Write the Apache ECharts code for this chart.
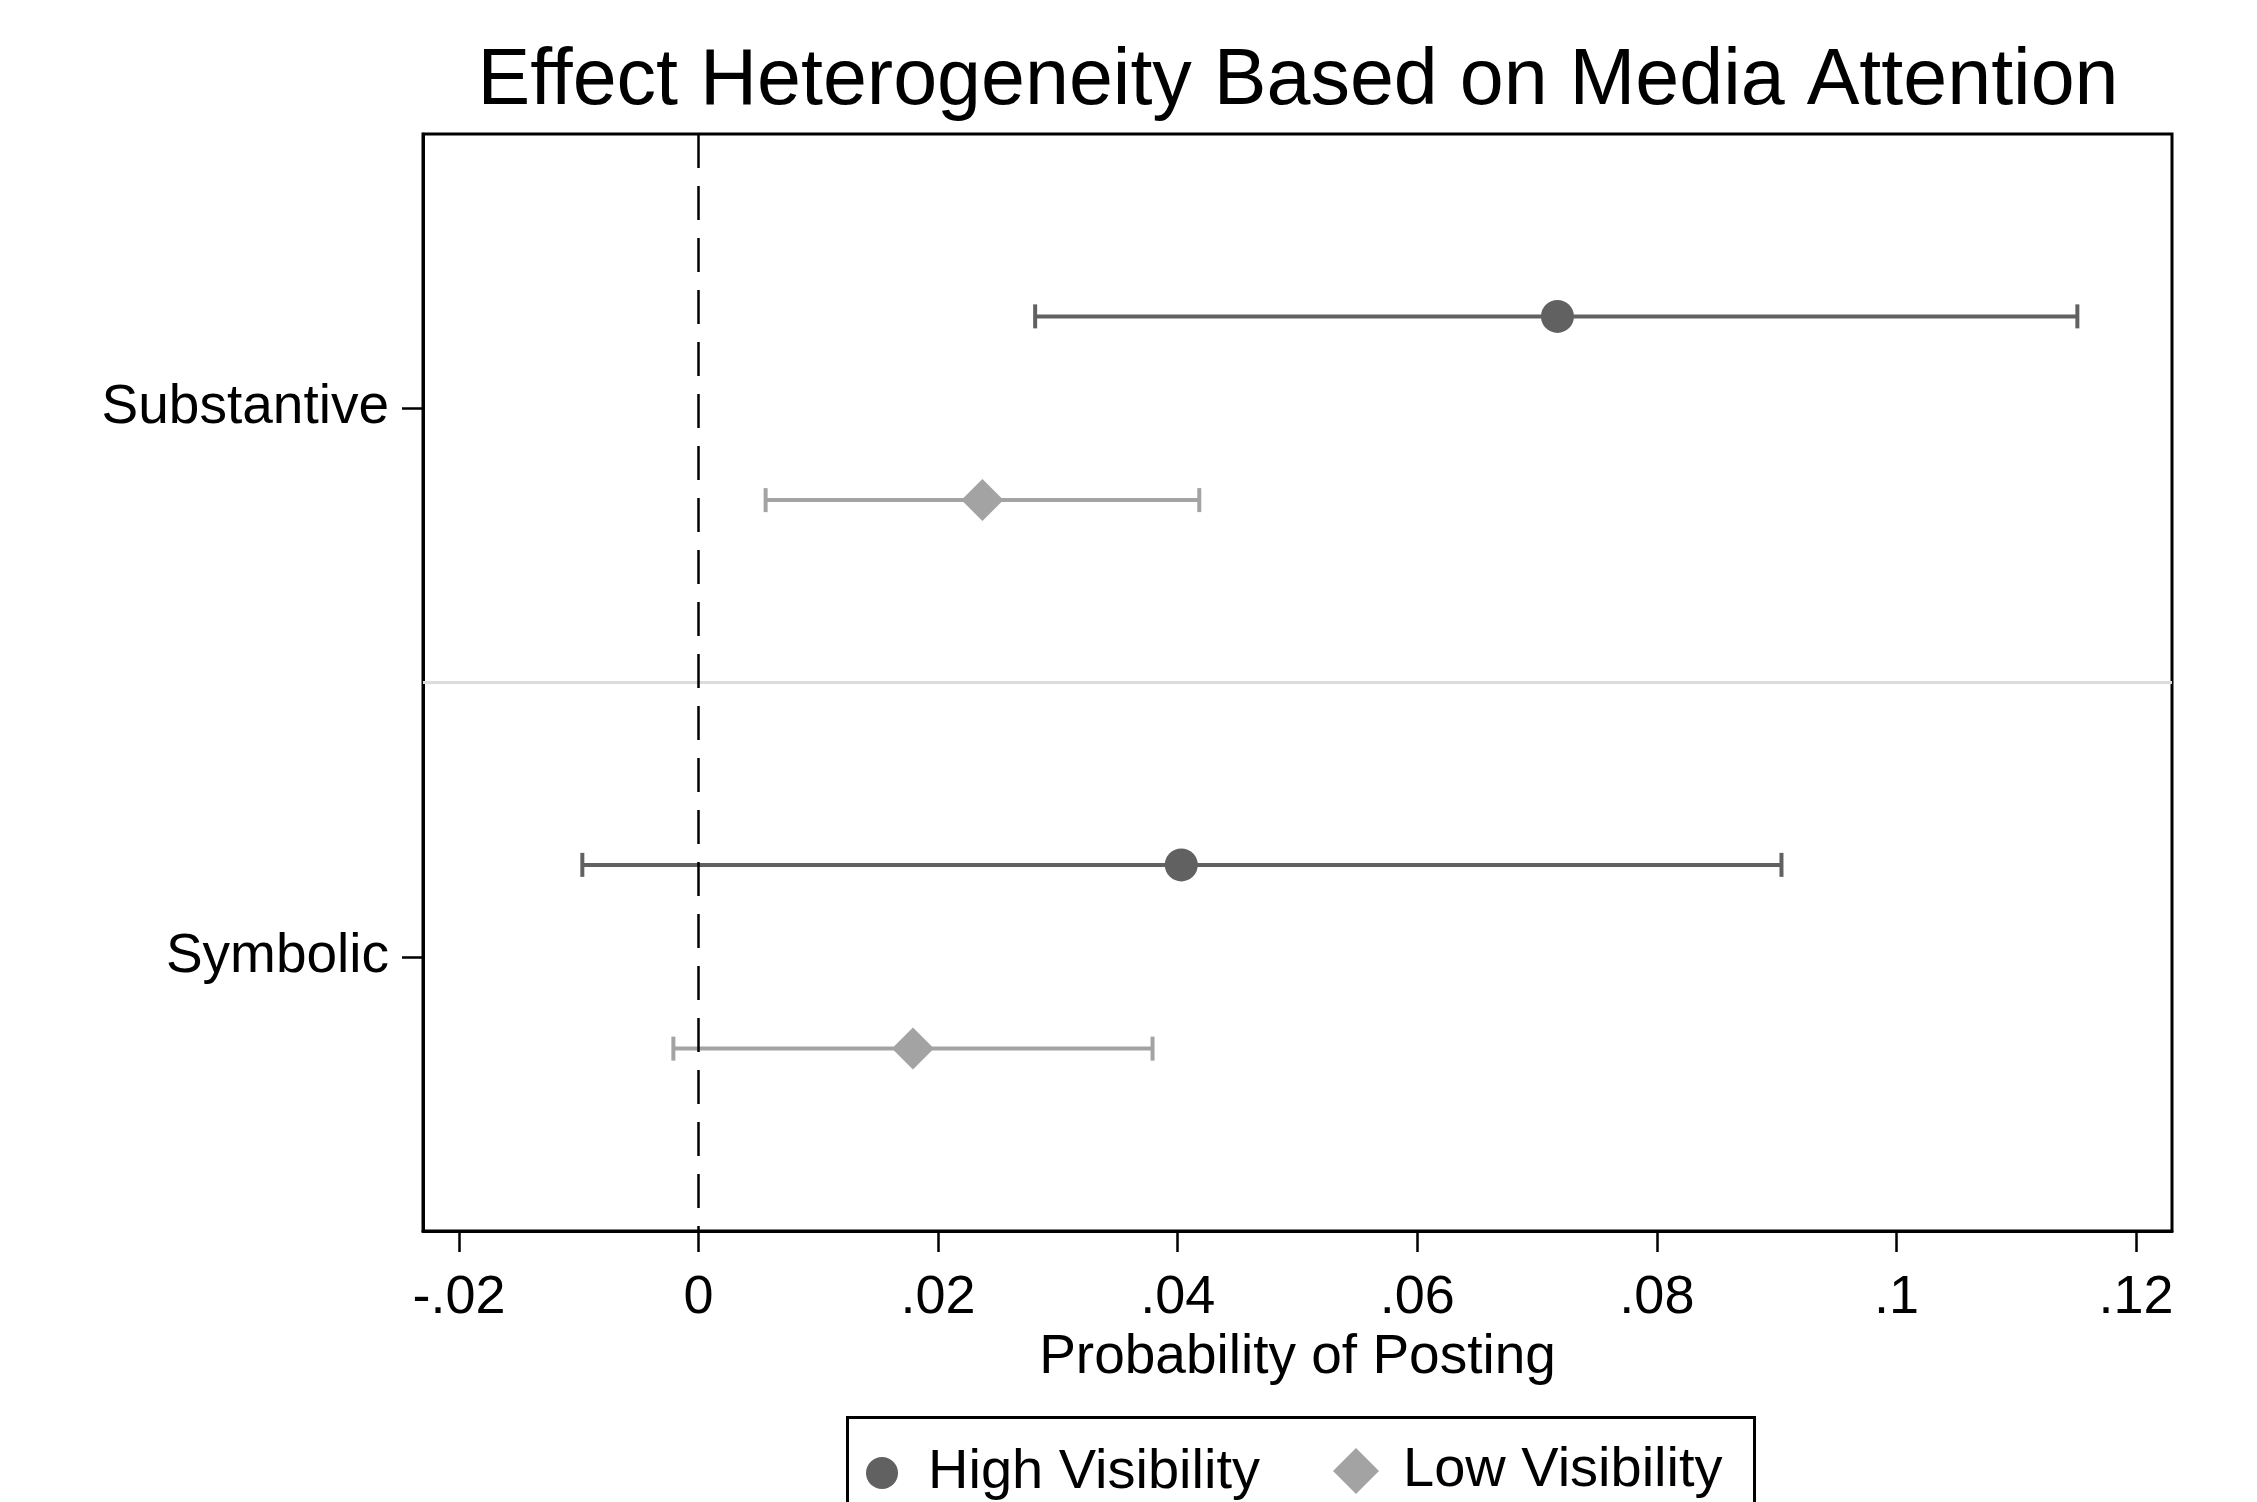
<!doctype html>
<html lang="en">
<head>
    <meta charset="UTF-8">
    <script src="https://cdn.jsdelivr.net/npm/echarts@6/dist/echarts.min.js"></script>
    <title>Effect Heterogeneity Based on Media Attention</title>
    <style>
        html, body { margin: 0; padding: 0; background: #fff; }
    </style>
</head>
<body>
<div id="main" style="width: 2257px;height:1502px;"></div>
<script>
    // data
    var categories = ['Substantive', 'Symbolic'];
    var highEst = [0.0717, 0.0403];
    var highLo = [0.0281, -0.0097];
    var highHi = [0.1151, 0.0904];
    var lowEst = [0.0237, 0.0179];
    var lowLo = [0.0056, -0.0021];
    var lowHi = [0.0418, 0.0379];
    var xTicks = [-0.02, 0, 0.02, 0.04, 0.06, 0.08, 0.1, 0.12];

    var FONT = '"Liberation Sans", Arial, sans-serif';
    var HIGH_COLOR = '#616161';
    var LOW_COLOR = '#a3a3a3';
    var OFFSET = 0.335; // vertical offset of each group inside its category band

    // category i sits at y = 2i+1 on a 0..4 value axis
    function rows(est, lo, hi, shift) {
        var pts = [], bars = [];
        for (var i = 0; i < categories.length; i++) {
            var y = 2 * i + 1 + shift;
            pts.push([est[i], y]);
            bars.push([lo[i], hi[i], y]);
        }
        return {pts: pts, bars: bars};
    }
    var high = rows(highEst, highLo, highHi, -OFFSET);
    var low = rows(lowEst, lowLo, lowHi, OFFSET);

    function fmt(v) {
        if (Math.abs(v) < 1e-9) return '0';
        return String(+v.toFixed(2)).replace('0.', '.');
    }

    function errorBar(color) {
        return function (params, api) {
            var a = api.coord([api.value(0), api.value(2)]);
            var b = api.coord([api.value(1), api.value(2)]);
            var cap = 12;
            var style = {stroke: color, lineWidth: 4};
            return {
                type: 'group',
                children: [
                    {type: 'line', shape: {x1: a[0], y1: a[1], x2: b[0], y2: b[1]}, style: style},
                    {type: 'line', shape: {x1: a[0], y1: a[1] - cap, x2: a[0], y2: a[1] + cap}, style: style},
                    {type: 'line', shape: {x1: b[0], y1: b[1] - cap, x2: b[0], y2: b[1] + cap}, style: style}
                ]
            };
        };
    }

    var legendText = {fontFamily: FONT, fontSize: 56, color: '#000'};

    var myChart = echarts.init(document.getElementById('main'));
    var option = {
        animation: false,
        backgroundColor: '#fff',
        textStyle: {fontFamily: FONT},
        title: {
            text: 'Effect Heterogeneity Based on Media Attention',
            left: 1293,
            textAlign: 'center',
            top: 38,
            textStyle: {fontFamily: FONT, fontSize: 79, fontWeight: 'normal', color: '#000'}
        },
        grid: {
            left: 423, right: 85, top: 134, bottom: 271,
            show: true, borderColor: '#000', borderWidth: 3,
            containLabel: false
        },
        xAxis: {
            type: 'value',
            min: -0.023,
            max: 0.123,
            name: 'Probability of Posting',
            nameLocation: 'middle',
            nameGap: 97,
            nameTextStyle: {fontFamily: FONT, fontSize: 55, color: '#000'},
            axisLine: {show: true, onZero: false, lineStyle: {color: '#000', width: 3}},
            axisTick: {show: true, length: 21, customValues: xTicks, lineStyle: {color: '#000', width: 2.5}},
            axisLabel: {
                customValues: xTicks, margin: 40, fontSize: 54, color: '#000', fontFamily: FONT,
                formatter: fmt
            },
            splitLine: {show: false}
        },
        yAxis: {
            type: 'value',
            inverse: true,
            min: 0,
            max: 4,
            axisLine: {show: true, onZero: false, lineStyle: {color: '#000', width: 3}},
            axisTick: {show: true, length: 21, customValues: [1, 3], lineStyle: {color: '#000', width: 2.5}},
            axisLabel: {
                customValues: [1, 3], margin: 34, fontSize: 55, color: '#000', fontFamily: FONT,
                formatter: function (v) { return categories[Math.round((v - 1) / 2)]; }
            },
            splitLine: {show: false}
        },
        // legend frame; the two entries are separate legends so each icon gets its own size
        graphic: [{
            type: 'rect',
            left: 845,
            top: 1415,
            shape: {width: 907, height: 200},
            style: {fill: 'none', stroke: '#000', lineWidth: 3},
            silent: true
        }],
        legend: [
            {
                left: 866,
                top: 1445,
                padding: 0,
                itemWidth: 32,
                itemHeight: 32,
                textStyle: Object.assign({padding: [0, 0, 0, 25]}, legendText),
                data: [{name: 'High Visibility', icon: 'circle', itemStyle: {color: HIGH_COLOR}}]
            },
            {
                left: 1333,
                top: 1443,
                padding: 0,
                itemWidth: 46,
                itemHeight: 46,
                textStyle: Object.assign({padding: [0, 0, 0, 19]}, legendText),
                data: [{name: 'Low Visibility', icon: 'diamond', itemStyle: {color: LOW_COLOR}}]
            }
        ],
        series: [
            {
                type: 'custom',
                name: 'High Visibility',
                renderItem: errorBar(HIGH_COLOR),
                itemStyle: {color: HIGH_COLOR},
                encode: {x: [0, 1], y: 2},
                data: high.bars,
                z: 3,
                markLine: {
                    silent: true,
                    symbol: 'none',
                    label: {show: false},
                    data: [
                        {yAxis: 2, lineStyle: {color: '#dcdcdc', width: 3, type: 'solid'}},
                        {xAxis: 0, lineStyle: {color: '#000', width: 2.5, type: [34, 18]}}
                    ]
                }
            },
            {
                type: 'custom',
                name: 'Low Visibility',
                renderItem: errorBar(LOW_COLOR),
                itemStyle: {color: LOW_COLOR},
                encode: {x: [0, 1], y: 2},
                data: low.bars,
                z: 3
            },
            {
                type: 'scatter',
                name: 'High Visibility',
                symbol: 'circle',
                symbolSize: 33,
                itemStyle: {color: HIGH_COLOR, opacity: 1},
                data: high.pts,
                z: 4
            },
            {
                type: 'scatter',
                name: 'Low Visibility',
                symbol: 'diamond',
                symbolSize: [42, 42],
                itemStyle: {color: LOW_COLOR, opacity: 1},
                data: low.pts,
                z: 4
            }
        ]
    };
    myChart.setOption(option);
</script>
</body>
</html>
